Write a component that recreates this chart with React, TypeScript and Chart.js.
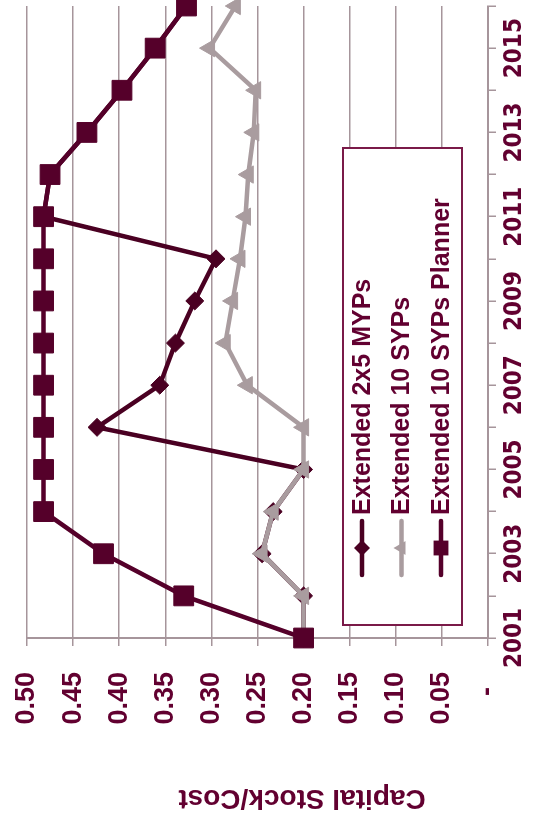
import React, { useEffect, useRef } from "react";
import { Chart, registerables } from "chart.js";

Chart.register(...registerables);

// Years on the category axis (every other one is labelled)
const YEARS = [
  "2001", "2002", "2003", "2004", "2005", "2006", "2007", "2008",
  "2009", "2010", "2011", "2012", "2013", "2014", "2015", "2016",
];

// Capital stock / cost ratio per scenario
const MYPS = [0.2, 0.2, 0.245, 0.233, 0.2, 0.424, 0.356, 0.339, 0.318, 0.295, 0.482, 0.475, 0.435, 0.397, 0.361, 0.327];
const SYPS = [0.2, 0.2, 0.245, 0.233, 0.2, 0.2, 0.261, 0.285, 0.277, 0.269, 0.263, 0.26, 0.254, 0.252, 0.302, 0.274];
const PLANNER = [0.2, 0.33, 0.417, 0.482, 0.482, 0.482, 0.482, 0.482, 0.482, 0.482, 0.482, 0.475, 0.435, 0.397, 0.361, 0.327];

const SERIES_NAMES = ["Extended 2x5 MYPs", "Extended 10 SYPs", "Extended 10 SYPs Planner"];
const AXIS_TITLE = "Capital Stock/Cost";

const TEXT = "#620030";
const GRID = "#A6959B";
const MAROON = "#55002A";
const MAROON_DARK = "#4A0022";
const GREY = "#A99C9F";
const FONT = "'Liberation Sans', Arial, sans-serif";
const NARROW = "'Liberation Sans Narrow', 'Arial Narrow', 'DejaVu Sans Condensed', sans-serif";

// canvas is a bit wider than the page height; the overflow is clipped
const CANVAS_W = 830;
const CANVAS_H = 533;
const PAGE_W = 533;
const PAGE_H = 821;

function drawMarker(ctx: CanvasRenderingContext2D, style: string, x: number, y: number, r: number) {
  ctx.beginPath();
  if (style === "rect") {
    const h = r * Math.SQRT1_2;
    ctx.rect(x - h, y - h, 2 * h, 2 * h);
  } else if (style === "rectRot") {
    ctx.moveTo(x, y - r);
    ctx.lineTo(x + r, y);
    ctx.lineTo(x, y + r);
    ctx.lineTo(x - r, y);
    ctx.closePath();
  } else {
    for (let k = 0; k < 3; k++) {
      const a = (k * 2 * Math.PI) / 3;
      const px = x + Math.sin(a) * r;
      const py = y - Math.cos(a) * r;
      if (k === 0) ctx.moveTo(px, py);
      else ctx.lineTo(px, py);
    }
    ctx.closePath();
  }
  ctx.fill();
}

// Boxed legend with line + marker samples, and the rotated value-axis title
const overlayPlugin = {
  id: "overlay",
  afterDraw(chart: any) {
    const ctx: CanvasRenderingContext2D = chart.ctx;
    ctx.save();

    // legend box
    const bx = 196, by = 343, bw = 477, bh = 119;
    ctx.fillStyle = "#ffffff";
    ctx.fillRect(bx, by, bw, bh);
    ctx.strokeStyle = "#7A1A48";
    ctx.lineWidth = 2;
    ctx.strokeRect(bx, by, bw, bh);

    chart.data.datasets.forEach((ds: any, i: number) => {
      const y = 362 + i * 39.5;
      ctx.strokeStyle = ds.borderColor;
      ctx.lineWidth = 4.5;
      ctx.lineCap = "round";
      ctx.beginPath();
      ctx.moveTo(246, y);
      ctx.lineTo(300, y);
      ctx.stroke();
      ctx.fillStyle = ds.borderColor;
      drawMarker(ctx, ds.pointStyle, 273, y, ds.pointStyle === "rect" ? 10.5 : 8);
      ctx.fillStyle = TEXT;
      ctx.font = `bold 25px ${FONT}`;
      ctx.textAlign = "left";
      ctx.textBaseline = "middle";
      ctx.fillText(ds.label, 306, y + 1);
    });

    // value axis title
    ctx.translate(23, 302);
    ctx.rotate(-Math.PI / 2);
    ctx.fillStyle = TEXT;
    ctx.font = `bold 28px ${FONT}`;
    ctx.textAlign = "center";
    ctx.textBaseline = "middle";
    ctx.fillText(AXIS_TITLE, 0, 0);
    ctx.restore();
  },
};

export default function App() {
  const canvasRef = useRef<HTMLCanvasElement | null>(null);

  useEffect(() => {
    if (!canvasRef.current) return;
    const mk = (label: string, data: number[], color: string, style: string, r: number, order: number) => ({
      label,
      data,
      borderColor: color,
      backgroundColor: color,
      borderWidth: 4.5,
      pointStyle: style,
      pointRadius: r,
      pointBackgroundColor: color,
      pointBorderColor: color,
      pointBorderWidth: 1,
      tension: 0,
      clip: false,
      order,
    });

    const chart = new Chart(canvasRef.current, {
      type: "line",
      data: {
        labels: YEARS,
        datasets: [
          mk(SERIES_NAMES[0], MYPS, MAROON_DARK, "rectRot", 9, 3),
          mk(SERIES_NAMES[1], SYPS, GREY, "triangle", 10, 2),
          mk(SERIES_NAMES[2], PLANNER, MAROON, "rect", 14, 1),
        ],
      },
      options: {
        animation: false,
        responsive: false,
        maintainAspectRatio: false,
        devicePixelRatio: 1,
        layout: { padding: { top: 27, right: 5, left: 0, bottom: 0 } },
        plugins: {
          legend: { display: false },
          tooltip: { enabled: false },
          title: { display: false },
        },
        scales: {
          x: {
            type: "category",
            offset: false,
            grid: {
              display: true,
              drawOnChartArea: false,
              drawTicks: true,
              tickLength: 8,
              color: GRID,
              lineWidth: 1.5,
            },
            border: { display: true, color: GRID, width: 2 },
            ticks: {
              autoSkip: false,
              maxRotation: 0,
              minRotation: 0,
              padding: 4,
              color: TEXT,
              font: { family: NARROW, size: 24, weight: "bold" },
              callback: (_v: any, i: number) => (i % 2 === 0 ? YEARS[i] : ""),
            },
            afterFit: (s: any) => {
              s.height = 45;
              s.paddingLeft = 0;
              s.paddingRight = 0;
            },
          },
          y: {
            min: 0,
            max: 0.5,
            grid: { color: GRID, lineWidth: 1.5, tickLength: 8, drawTicks: true },
            border: { display: true, color: GRID, width: 2 },
            ticks: {
              stepSize: 0.05,
              padding: 26,
              color: TEXT,
              font: { family: FONT, size: 27, weight: "bold" },
              callback: (v: any) => (Math.abs(v) < 1e-9 ? "-  " : Number(v).toFixed(2)),
            },
            afterFit: (s: any) => {
              s.width = 183;
              s.paddingTop = 0;
              s.paddingBottom = 0;
            },
          },
        },
      } as any,
      plugins: [overlayPlugin],
    });
    return () => chart.destroy();
  }, []);

  return (
    <div
      style={{
        position: "absolute",
        left: 0,
        top: 0,
        width: PAGE_W,
        height: PAGE_H,
        overflow: "hidden",
        background: "#ffffff",
      }}
    >
      <div
        style={{
          position: "absolute",
          left: 0,
          top: 0,
          width: CANVAS_W,
          height: CANVAS_H,
          transformOrigin: "0 0",
          transform: `translateY(${PAGE_H}px) rotate(-90deg)`,
        }}
      >
        <canvas ref={canvasRef} width={CANVAS_W} height={CANVAS_H} style={{ display: "block" }} />
      </div>
    </div>
  );
}
